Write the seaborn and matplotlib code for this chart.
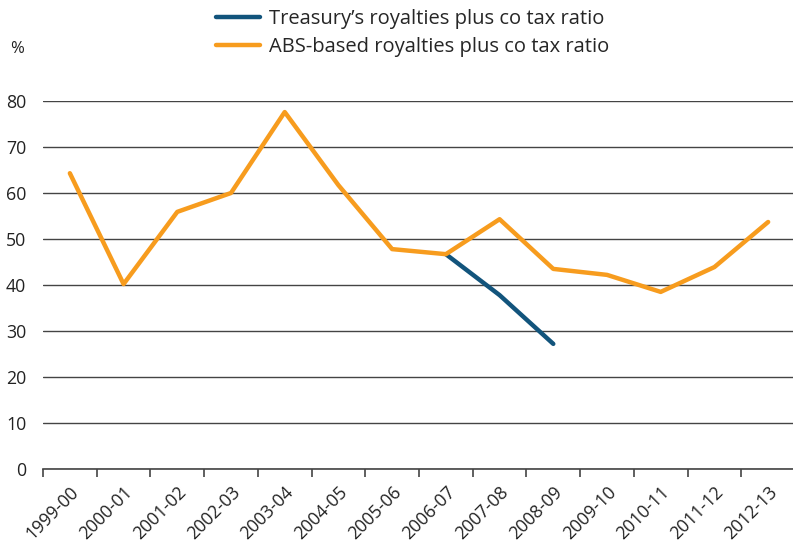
import numpy as np
import pandas as pd
import seaborn as sns
import matplotlib.pyplot as plt
from matplotlib.ticker import FixedLocator

years = ['1999-00', '2000-01', '2001-02', '2002-03', '2003-04', '2004-05', '2005-06',
         '2006-07', '2007-08', '2008-09', '2009-10', '2010-11', '2011-12', '2012-13']
abs_ratio = [64.3, 40.2, 55.9, 60.0, 77.6, 61.7, 47.8,
             46.7, 54.3, 43.5, 42.2, 38.5, 43.9, 53.7]
treasury_ratio = [np.nan] * 7 + [46.7, 37.8, 27.2] + [np.nan] * 4

series_names = ["Treasury\u2019s royalties plus co tax ratio",
                "ABS-based royalties plus co tax ratio"]
colors = ['#12547c', '#f79c1e']

df = pd.DataFrame({
    'year': years * 2,
    'value': treasury_ratio + abs_ratio,
    'series': [series_names[0]] * len(years) + [series_names[1]] * len(years),
})

sns.set_theme(style='white')
plt.rcParams['font.family'] = ['Open Sans', 'DejaVu Sans']

fig = plt.figure(figsize=(7.93, 5.49), dpi=100)
ax = fig.add_axes([43 / 793, 1 - 469 / 549, 752 / 793, 368 / 549])

sns.lineplot(data=df, x='year', y='value', hue='series', palette=colors,
             linewidth=3.2, ax=ax, legend=False, sort=False)

ax.set_xlim(-0.5, len(years) - 0.5)
ax.set_ylim(0, 80)
ax.set_yticks(range(0, 81, 10))
ax.yaxis.grid(True, color='#444444', linewidth=1)
ax.set_axisbelow(True)
for s in ['left', 'right', 'top']:
    ax.spines[s].set_visible(False)
ax.spines['bottom'].set_color('#444444')
ax.spines['bottom'].set_linewidth(1.2)

ax.set_xticks(range(len(years)))
ax.set_xticklabels(years, rotation=45, ha='right', rotation_mode='anchor', fontsize=12.8, color='#222222')
ax.xaxis.set_minor_locator(FixedLocator(np.arange(-0.5, len(years), 1)))
ax.tick_params(axis='x', which='major', length=0, pad=10)
ax.tick_params(axis='x', which='minor', length=6, width=1.2, color='#444444', direction='out', bottom=True)
ax.tick_params(axis='y', length=0, labelsize=12.8, labelcolor='#222222', pad=12)
ax.set_xlabel('')
ax.set_ylabel('')

fig.text(10 / 793, 1 - 49 / 549, '%', fontsize=12, color='#222222', va='center')

handles = [plt.Line2D([], [], color=c, linewidth=3.2) for c in colors]
fig.legend(handles, series_names, loc='upper left', bbox_to_anchor=(207 / 793, 1.0),
           frameon=False, fontsize=14.5, handlelength=2.2, handletextpad=0.42,
           labelspacing=0.38, borderaxespad=0.05)

fig.savefig('out.png', dpi=100)
